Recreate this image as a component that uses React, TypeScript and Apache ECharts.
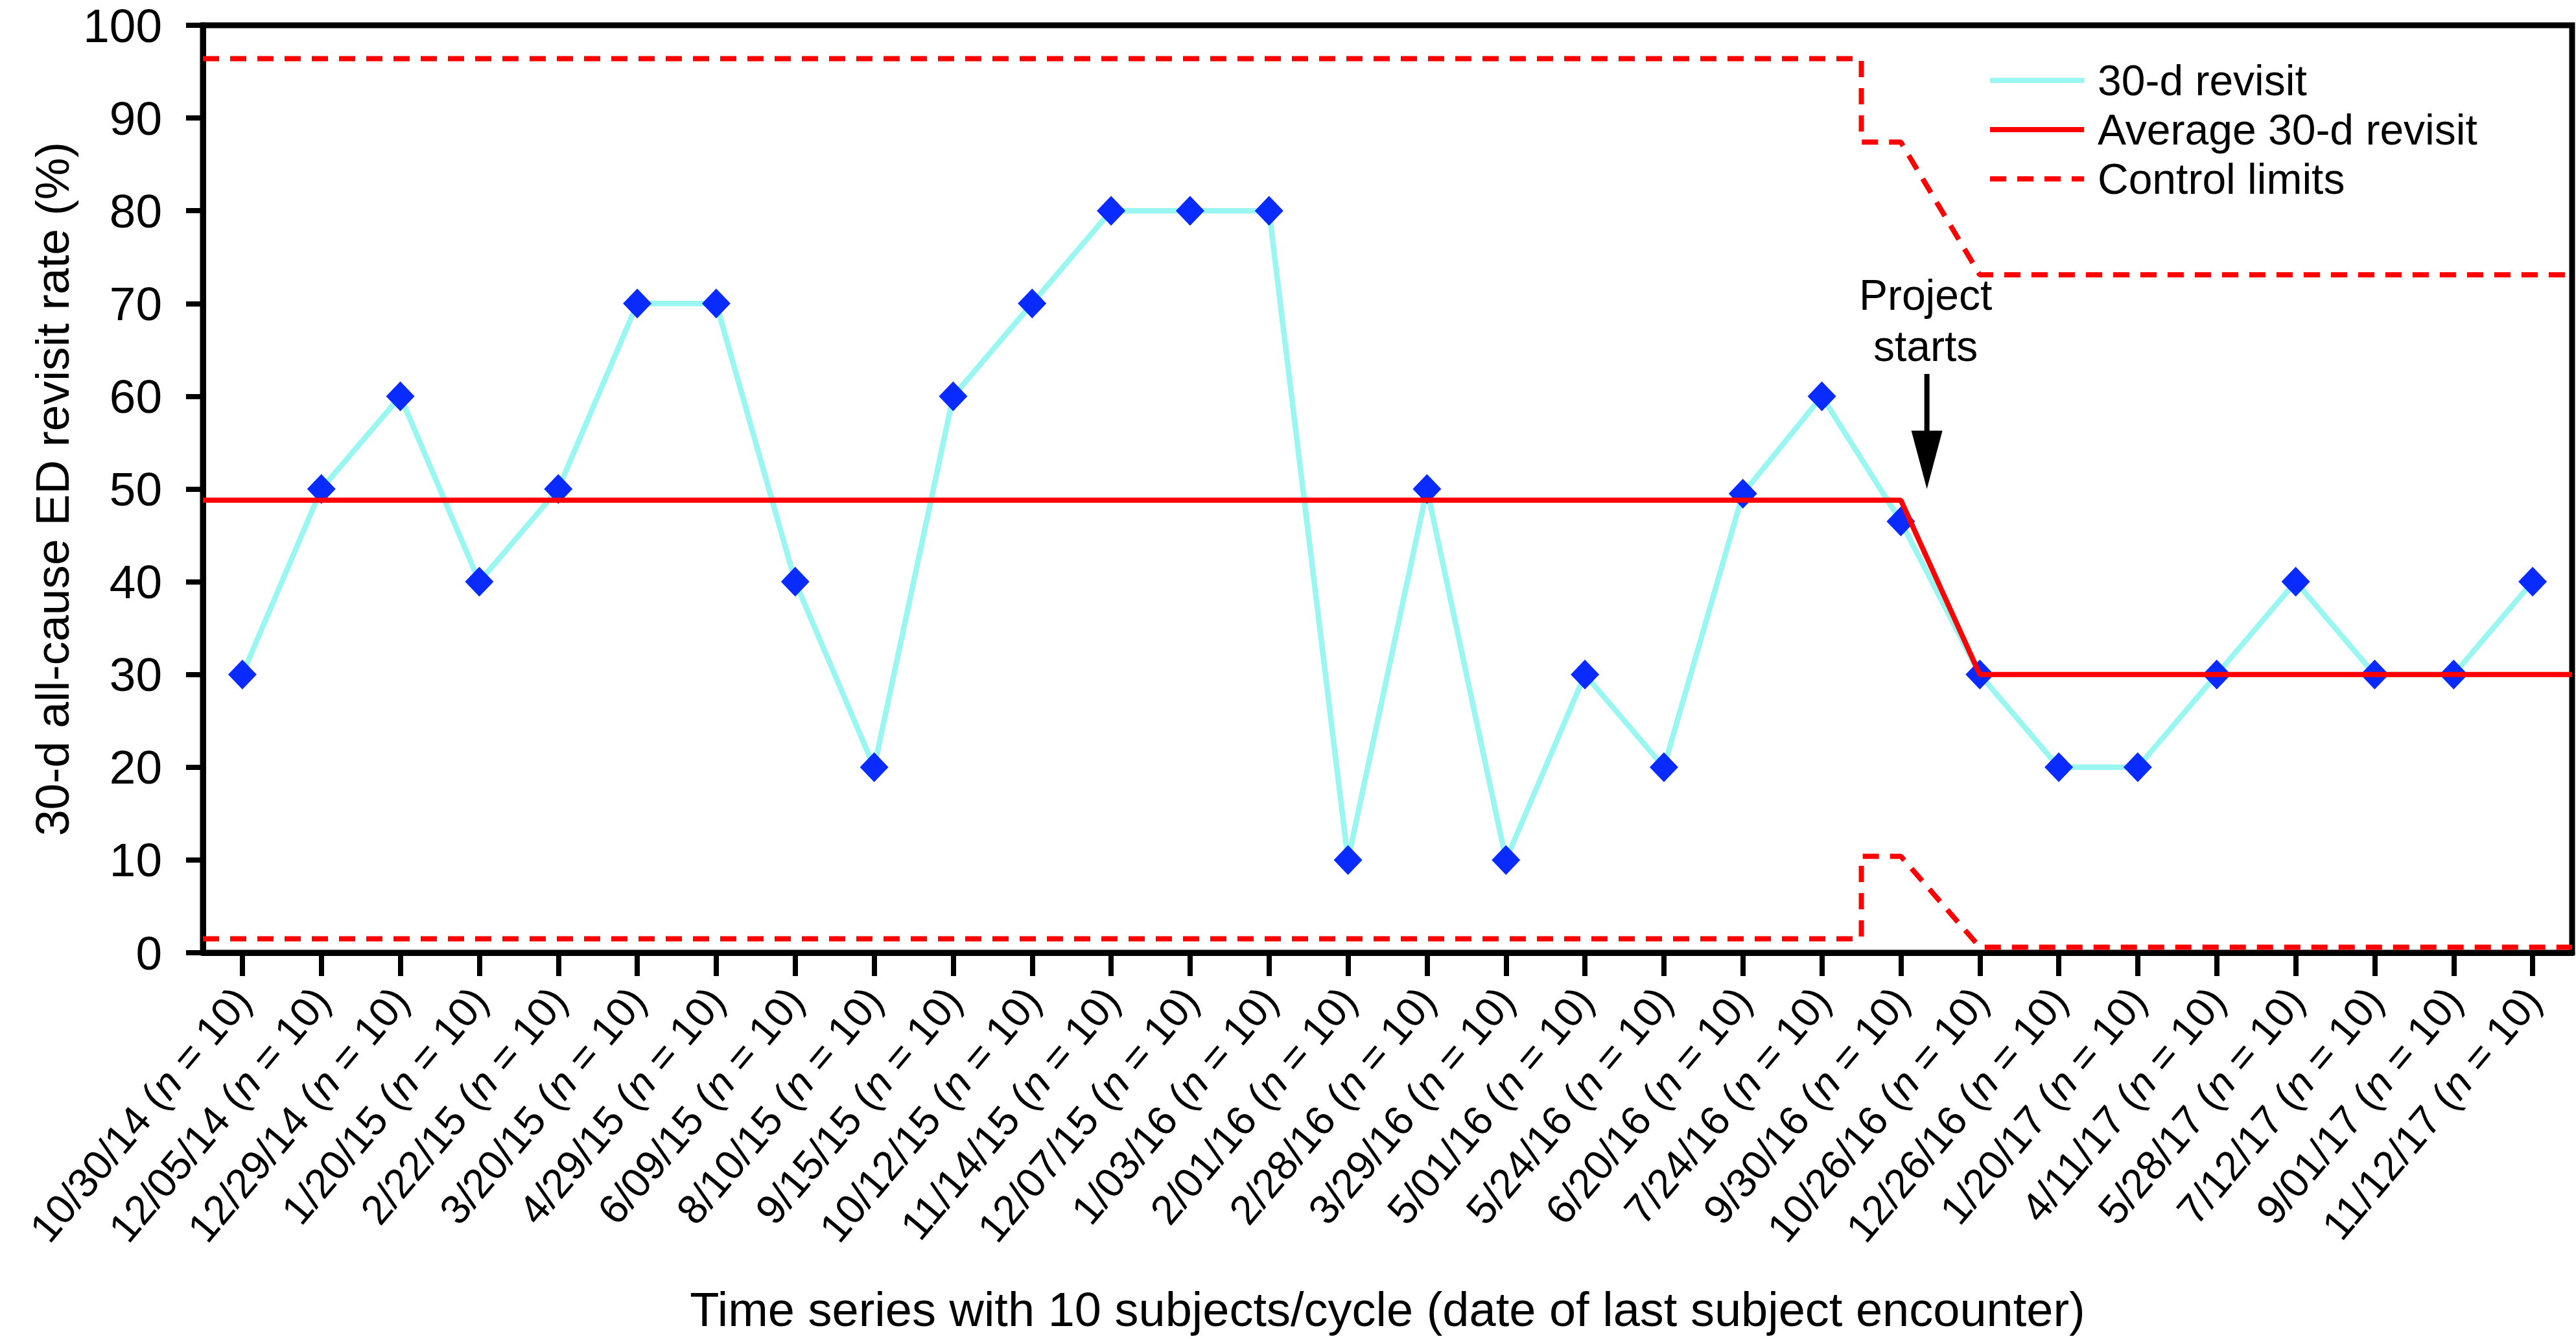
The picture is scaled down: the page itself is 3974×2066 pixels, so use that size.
import React, { useEffect, useRef } from "react";
import * as echarts from "echarts";

// ---------- data ----------
const cycleDates = [
  "10/30/14", "12/05/14", "12/29/14", "1/20/15", "2/22/15", "3/20/15", "4/29/15", "6/09/15",
  "8/10/15", "9/15/15", "10/12/15", "11/14/15", "12/07/15", "1/03/16", "2/01/16", "2/28/16",
  "3/29/16", "5/01/16", "5/24/16", "6/20/16", "7/24/16", "9/30/16", "10/26/16", "12/26/16",
  "1/20/17", "4/11/17", "5/28/17", "7/12/17", "9/01/17", "11/12/17",
];
const subjectsPerCycle = [
  10, 10, 10, 10, 10, 10, 10, 10, 10, 10, 10, 10, 10, 10, 10,
  10, 10, 10, 10, 10, 10, 10, 10, 10, 10, 10, 10, 10, 10, 10,
];
const revisitRates = [
  30, 50, 60, 40, 50, 70, 70, 40, 20, 60, 70, 80, 80, 80, 10,
  50, 10, 30, 20, 49.5, 60, 46.5, 30, 20, 20, 30, 40, 30, 30, 40,
];
// average line (x in category-index units)
const averageX = [-0.5, 21, 22, 29.5];
const averageY = [48.8, 48.8, 30, 30];
// control limits
const limitX = [-0.5, 20.5, 20.5, 21, 22, 29.5];
const upperLimitY = [96.4, 96.4, 87.4, 87.4, 73.1, 73.1];
const lowerLimitY = [1.5, 1.5, 10.4, 10.4, 0.6, 0.6];
// annotation: "Project starts" arrow
const projectStartX = 21.33;
const arrowTopY = 62.4;
const arrowTipY = 50;

const yMin = 0;
const yMax = 100;
const yInterval = 10;

const FONT = "'Liberation Sans', Arial, Helvetica, sans-serif";
const CYAN = "#99f6f1";
const BLUE = "#0a2bff";
const RED = "#ff0000";

export default function App() {
  const ref = useRef<HTMLDivElement>(null);

  useEffect(() => {
    if (!ref.current) return;
    const chart = echarts.init(ref.current, undefined, { renderer: "svg" });

    const pairs = (xs: number[], ys: number[]) => xs.map((x, i) => [x, ys[i]]);

    chart.setOption({
      animation: false,
      backgroundColor: "#ffffff",
      grid: {
        left: 313,
        right: 6,
        top: 39,
        bottom: 596,
        show: true,
        borderColor: "#000",
        borderWidth: 9,
        backgroundColor: "transparent",
      },
      legend: {
        left: 3065,
        top: 81,
        orient: "vertical",
        itemWidth: 145,
        itemHeight: 8,
        itemGap: 0,
        selectedMode: false,
        textStyle: {
          fontFamily: FONT,
          fontSize: 66,
          color: "#000",
          lineHeight: 76,
          padding: [0, 0, 0, 16],
        },
        data: [
          { name: "30-d revisit", icon: "rect", itemStyle: { color: CYAN } },
          { name: "Average 30-d revisit", icon: "rect", itemStyle: { color: RED } },
          {
            name: "Control limits",
            icon: "path://M0,0h25v8h-25zM42,0h25v8h-25zM84,0h25v8h-25zM126,0h19v8h-19z",
            itemStyle: { color: RED },
          },
        ],
      },
      xAxis: [
        {
          type: "category",
          data: cycleDates.map((d, i) => `${d}|${subjectsPerCycle[i]}`),
          boundaryGap: true,
          name: "Time series with 10 subjects/cycle (date of last subject encounter)",
          nameLocation: "middle",
          nameGap: 513,
          nameTextStyle: { fontFamily: FONT, fontSize: 74, color: "#000" },
          axisLine: { show: true, onZero: false, lineStyle: { color: "#000", width: 9 } },
          axisTick: {
            show: true,
            alignWithLabel: true,
            inside: false,
            length: 36,
            lineStyle: { color: "#000", width: 8 },
          },
          axisLabel: {
            interval: 0,
            rotate: 50,
            margin: 62,
            fontFamily: FONT,
            fontSize: 64,
            color: "#000",
            formatter: (v: string) => {
              const [d, n] = v.split("|");
              return `{a|${d} (}{i|n}{a| = ${n})}`;
            },
            rich: {
              a: { fontFamily: FONT, fontSize: 64, color: "#000" },
              i: { fontFamily: FONT, fontSize: 64, color: "#000", fontStyle: "italic" },
            },
          },
          splitLine: { show: false },
        },
        {
          type: "value",
          min: -0.5,
          max: 29.5,
          show: false,
          axisLine: { show: false, onZero: false },
          splitLine: { show: false },
        },
      ],
      yAxis: {
        type: "value",
        min: yMin,
        max: yMax,
        interval: yInterval,
        name: "30-d all-cause ED revisit rate (%)",
        nameLocation: "middle",
        nameRotate: 90,
        nameGap: 185,
        nameTextStyle: { fontFamily: FONT, fontSize: 73, color: "#000" },
        axisLine: { show: true, onZero: false, lineStyle: { color: "#000", width: 9 } },
        axisTick: { show: true, inside: false, length: 26, lineStyle: { color: "#000", width: 8 } },
        axisLabel: { margin: 63, fontFamily: FONT, fontSize: 73, lineHeight: 50, color: "#000" },
        splitLine: { show: false },
      },
      series: [
        {
          name: "30-d revisit",
          type: "line",
          xAxisIndex: 0,
          data: revisitRates,
          symbol: "diamond",
          symbolSize: [44, 46],
          itemStyle: { color: BLUE },
          lineStyle: { color: CYAN, width: 8.5 },
          z: 2,
        },
        {
          name: "Average 30-d revisit",
          type: "line",
          xAxisIndex: 1,
          data: pairs(averageX, averageY),
          symbol: "none",
          lineStyle: { color: RED, width: 8 },
          itemStyle: { color: RED },
          z: 3,
        },
        {
          name: "Control limits",
          type: "line",
          xAxisIndex: 1,
          data: pairs(limitX, upperLimitY),
          symbol: "none",
          lineStyle: { color: RED, width: 8, type: [25, 17] },
          itemStyle: { color: RED },
          z: 3,
        },
        {
          name: "Control limits",
          type: "line",
          xAxisIndex: 1,
          data: pairs(limitX, lowerLimitY),
          symbol: "none",
          lineStyle: { color: RED, width: 8, type: [25, 17] },
          itemStyle: { color: RED },
          z: 3,
        },
      ],
    });

    // annotation arrow placed through the axes' scales
    const top = chart.convertToPixel({ xAxisIndex: 1, yAxisIndex: 0 }, [projectStartX, arrowTopY]) as number[];
    const tip = chart.convertToPixel({ xAxisIndex: 1, yAxisIndex: 0 }, [projectStartX, arrowTipY]) as number[];
    const headLen = 90;
    const headHalf = 24;
    chart.setOption({
      graphic: [
        {
          type: "line",
          shape: { x1: top[0], y1: top[1], x2: tip[0], y2: tip[1] - headLen + 2 },
          style: { stroke: "#000", lineWidth: 8 },
          z: 10,
        },
        {
          type: "polygon",
          shape: {
            points: [
              [tip[0] - headHalf, tip[1] - headLen],
              [tip[0] + headHalf, tip[1] - headLen],
              [tip[0], tip[1]],
            ],
          },
          style: { fill: "#000" },
          z: 10,
        },
        {
          type: "text",
          x: top[0] - 2,
          y: top[1] - 4,
          style: {
            text: "Project\nstarts",
            fontFamily: FONT,
            fontSize: 66,
            lineHeight: 79,
            fill: "#000",
            textAlign: "center",
            textVerticalAlign: "bottom",
          },
          z: 10,
        },
      ],
    });

    return () => chart.dispose();
  }, []);

  return (
    <div
      ref={ref}
      style={{ position: "fixed", left: 0, top: 0, width: 3974, height: 2066, background: "#fff" }}
    />
  );
}
